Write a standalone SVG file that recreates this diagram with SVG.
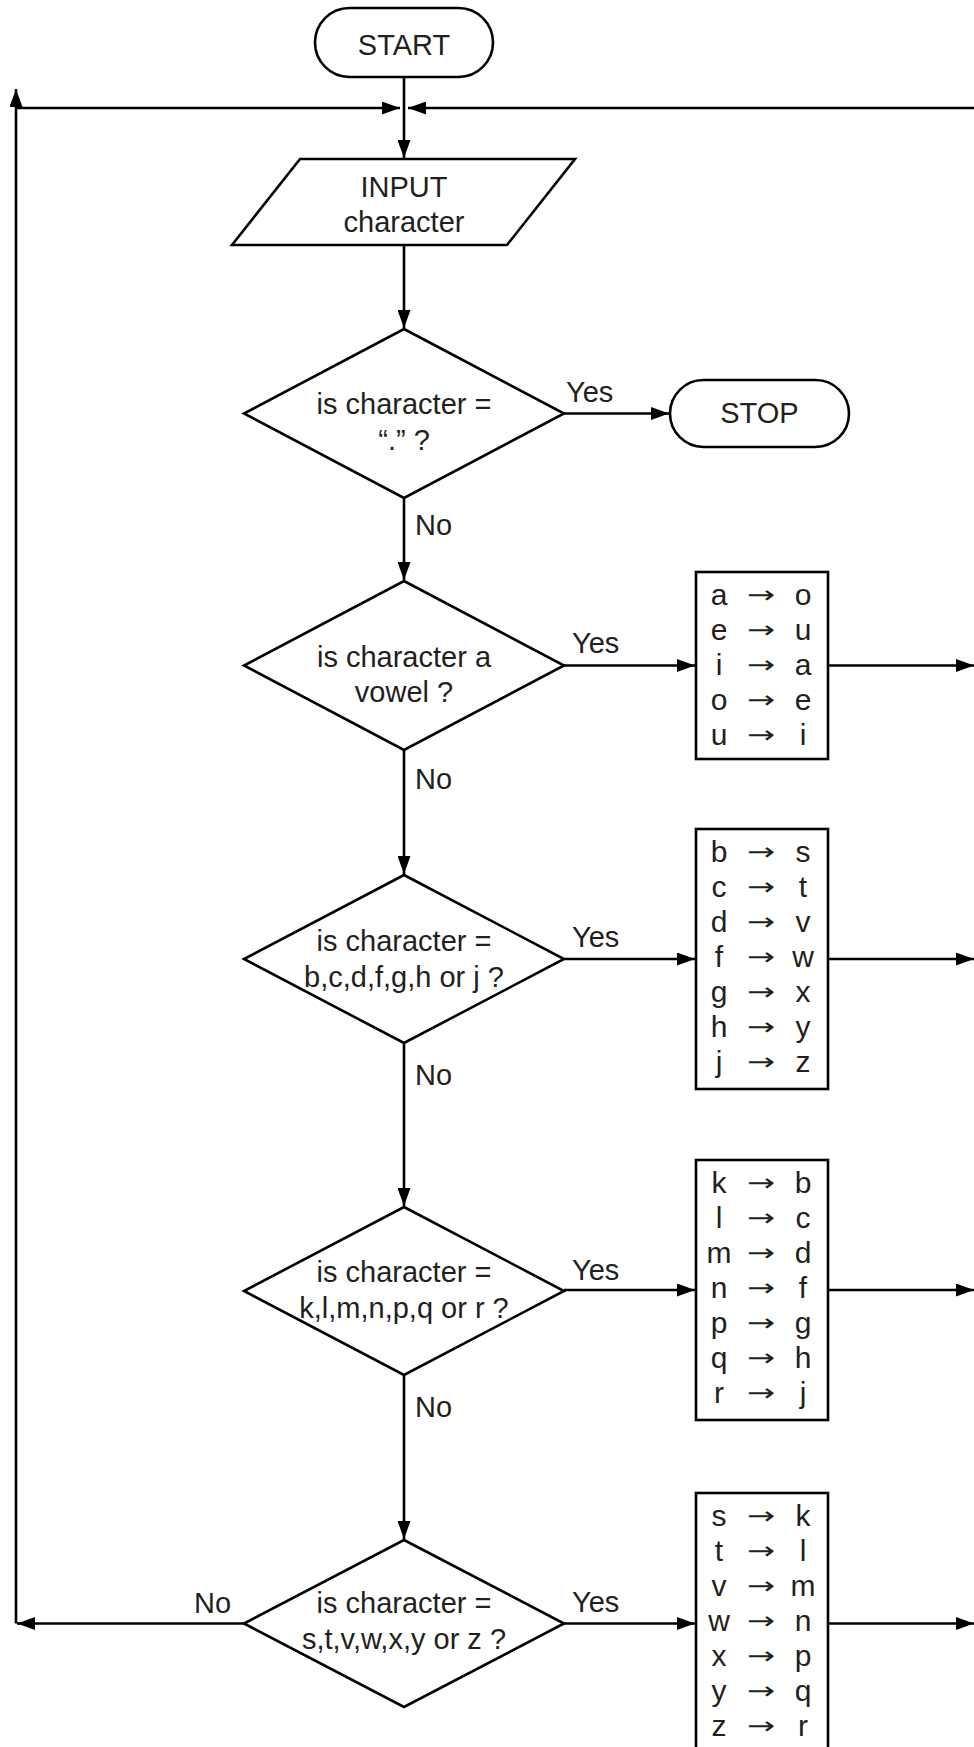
<svg xmlns="http://www.w3.org/2000/svg" width="974" height="1747" viewBox="0 0 974 1747">
<style>
.s{fill:#fff;stroke:#000;stroke-width:2.6}
.c{fill:none;stroke:#000;stroke-width:2.6}
.t{font-family:"Liberation Sans",Arial,sans-serif;font-size:29px;fill:#231f20;text-anchor:middle}
.l{font-family:"Liberation Sans",Arial,sans-serif;font-size:29px;fill:#231f20}
.r{font-family:"Liberation Sans",Arial,sans-serif;font-size:30px;fill:#231f20;text-anchor:middle}
.a{font-family:"DejaVu Sans",sans-serif;font-size:24px;fill:#231f20;text-anchor:middle}
</style>
<defs>
<marker id="ah" markerWidth="18" markerHeight="13" refX="18" refY="6.5" orient="auto" markerUnits="userSpaceOnUse"><path d="M0,0 L18,6.5 L0,13 Z" fill="#000"/></marker>
</defs>
<rect width="974" height="1747" fill="#fff"/>
<g id="connectors">
<line class="c" x1="16" y1="108" x2="400" y2="108" marker-end="url(#ah)"/>
<line class="c" x1="974" y1="108" x2="408" y2="108" marker-end="url(#ah)"/>
<line class="c" x1="404" y1="77" x2="404" y2="158" marker-end="url(#ah)"/>
<line class="c" x1="404" y1="245" x2="404" y2="328" marker-end="url(#ah)"/>
<line class="c" x1="404" y1="498" x2="404" y2="580" marker-end="url(#ah)"/>
<line class="c" x1="404" y1="750" x2="404" y2="874" marker-end="url(#ah)"/>
<line class="c" x1="404" y1="1043" x2="404" y2="1206" marker-end="url(#ah)"/>
<line class="c" x1="404" y1="1375" x2="404" y2="1539" marker-end="url(#ah)"/>
<line class="c" x1="564" y1="413.5" x2="669" y2="413.5" marker-end="url(#ah)"/>
<line class="c" x1="564" y1="665.5" x2="695" y2="665.5" marker-end="url(#ah)"/>
<line class="c" x1="564" y1="959" x2="695" y2="959" marker-end="url(#ah)"/>
<line class="c" x1="564" y1="1290" x2="695" y2="1290" marker-end="url(#ah)"/>
<line class="c" x1="564" y1="1623.5" x2="695" y2="1623.5" marker-end="url(#ah)"/>
<line class="c" x1="828" y1="665.5" x2="974" y2="665.5" marker-end="url(#ah)"/>
<line class="c" x1="828" y1="959" x2="974" y2="959" marker-end="url(#ah)"/>
<line class="c" x1="828" y1="1290" x2="974" y2="1290" marker-end="url(#ah)"/>
<line class="c" x1="828" y1="1623.5" x2="974" y2="1623.5" marker-end="url(#ah)"/>
<line class="c" x1="244" y1="1623.5" x2="17" y2="1623.5" marker-end="url(#ah)"/>
<line class="c" x1="16" y1="1623.5" x2="16" y2="89" marker-end="url(#ah)"/>
<text class="l" x="566" y="402">Yes</text>
<text class="l" x="572" y="653">Yes</text>
<text class="l" x="572" y="947">Yes</text>
<text class="l" x="572" y="1280">Yes</text>
<text class="l" x="572" y="1612">Yes</text>
<text class="l" x="415" y="535">No</text>
<text class="l" x="415" y="789">No</text>
<text class="l" x="415" y="1085">No</text>
<text class="l" x="415" y="1417">No</text>
<text class="l" x="194" y="1613">No</text>
</g>
<g id="start">
<rect class="s" x="315" y="8" width="178" height="69" rx="34.5"/>
<text class="t" x="404" y="55">START</text>
</g>
<g id="input">
<polygon class="s" points="300,159 575,159 507,245 232,245"/>
<text class="t" x="404" y="197">INPUT</text>
<text class="t" x="404" y="232">character</text>
</g>
<g id="d1">
<polygon class="s" points="404,329 564,413.5 404,498 244,413.5"/>
<text class="t" x="404" y="414">is character =</text>
<text class="t" x="404" y="450">“.” ?</text>
</g>
<g id="stop">
<rect class="s" x="670" y="380" width="179" height="67" rx="33.5"/>
<text class="t" x="759.5" y="423">STOP</text>
</g>
<g id="d2">
<polygon class="s" points="404,581 564,665.5 404,750 244,665.5"/>
<text class="t" x="404" y="667">is character a</text>
<text class="t" x="404" y="702">vowel ?</text>
</g>
<g id="d3">
<polygon class="s" points="404,875 564,959 404,1043 244,959"/>
<text class="t" x="404" y="951">is character =</text>
<text class="t" x="404" y="987">b,c,d,f,g,h or j ?</text>
</g>
<g id="d4">
<polygon class="s" points="404,1207 564,1291 404,1375 244,1291"/>
<text class="t" x="404" y="1282">is character =</text>
<text class="t" x="404" y="1318">k,l,m,n,p,q or r ?</text>
</g>
<g id="d5">
<polygon class="s" points="404,1540 564,1623.5 404,1707 244,1623.5"/>
<text class="t" x="404" y="1613">is character =</text>
<text class="t" x="404" y="1649">s,t,v,w,x,y or z ?</text>
</g>
<g id="box1">
<rect class="s" x="696" y="572" width="132" height="187"/>
<text class="r" x="719" y="605">a</text><text class="a" transform="translate(761,603) scale(1.4,1)">→</text><text class="r" x="803" y="605">o</text>
<text class="r" x="719" y="640">e</text><text class="a" transform="translate(761,638) scale(1.4,1)">→</text><text class="r" x="803" y="640">u</text>
<text class="r" x="719" y="675">i</text><text class="a" transform="translate(761,673) scale(1.4,1)">→</text><text class="r" x="803" y="675">a</text>
<text class="r" x="719" y="710">o</text><text class="a" transform="translate(761,708) scale(1.4,1)">→</text><text class="r" x="803" y="710">e</text>
<text class="r" x="719" y="745">u</text><text class="a" transform="translate(761,743) scale(1.4,1)">→</text><text class="r" x="803" y="745">i</text>
</g>
<g id="box2">
<rect class="s" x="696" y="829" width="132" height="260"/>
<text class="r" x="719" y="862">b</text><text class="a" transform="translate(761,860) scale(1.4,1)">→</text><text class="r" x="803" y="862">s</text>
<text class="r" x="719" y="897">c</text><text class="a" transform="translate(761,895) scale(1.4,1)">→</text><text class="r" x="803" y="897">t</text>
<text class="r" x="719" y="932">d</text><text class="a" transform="translate(761,930) scale(1.4,1)">→</text><text class="r" x="803" y="932">v</text>
<text class="r" x="719" y="967">f</text><text class="a" transform="translate(761,965) scale(1.4,1)">→</text><text class="r" x="803" y="967">w</text>
<text class="r" x="719" y="1002">g</text><text class="a" transform="translate(761,1000) scale(1.4,1)">→</text><text class="r" x="803" y="1002">x</text>
<text class="r" x="719" y="1037">h</text><text class="a" transform="translate(761,1035) scale(1.4,1)">→</text><text class="r" x="803" y="1037">y</text>
<text class="r" x="719" y="1072">j</text><text class="a" transform="translate(761,1070) scale(1.4,1)">→</text><text class="r" x="803" y="1072">z</text>
</g>
<g id="box3">
<rect class="s" x="696" y="1160" width="132" height="260"/>
<text class="r" x="719" y="1193">k</text><text class="a" transform="translate(761,1191) scale(1.4,1)">→</text><text class="r" x="803" y="1193">b</text>
<text class="r" x="719" y="1228">l</text><text class="a" transform="translate(761,1226) scale(1.4,1)">→</text><text class="r" x="803" y="1228">c</text>
<text class="r" x="719" y="1263">m</text><text class="a" transform="translate(761,1261) scale(1.4,1)">→</text><text class="r" x="803" y="1263">d</text>
<text class="r" x="719" y="1298">n</text><text class="a" transform="translate(761,1296) scale(1.4,1)">→</text><text class="r" x="803" y="1298">f</text>
<text class="r" x="719" y="1333">p</text><text class="a" transform="translate(761,1331) scale(1.4,1)">→</text><text class="r" x="803" y="1333">g</text>
<text class="r" x="719" y="1368">q</text><text class="a" transform="translate(761,1366) scale(1.4,1)">→</text><text class="r" x="803" y="1368">h</text>
<text class="r" x="719" y="1403">r</text><text class="a" transform="translate(761,1401) scale(1.4,1)">→</text><text class="r" x="803" y="1403">j</text>
</g>
<g id="box4">
<rect class="s" x="696" y="1493" width="132" height="270"/>
<text class="r" x="719" y="1526">s</text><text class="a" transform="translate(761,1524) scale(1.4,1)">→</text><text class="r" x="803" y="1526">k</text>
<text class="r" x="719" y="1561">t</text><text class="a" transform="translate(761,1559) scale(1.4,1)">→</text><text class="r" x="803" y="1561">l</text>
<text class="r" x="719" y="1596">v</text><text class="a" transform="translate(761,1594) scale(1.4,1)">→</text><text class="r" x="803" y="1596">m</text>
<text class="r" x="719" y="1631">w</text><text class="a" transform="translate(761,1629) scale(1.4,1)">→</text><text class="r" x="803" y="1631">n</text>
<text class="r" x="719" y="1666">x</text><text class="a" transform="translate(761,1664) scale(1.4,1)">→</text><text class="r" x="803" y="1666">p</text>
<text class="r" x="719" y="1701">y</text><text class="a" transform="translate(761,1699) scale(1.4,1)">→</text><text class="r" x="803" y="1701">q</text>
<text class="r" x="719" y="1736">z</text><text class="a" transform="translate(761,1734) scale(1.4,1)">→</text><text class="r" x="803" y="1736">r</text>
</g>
</svg>
